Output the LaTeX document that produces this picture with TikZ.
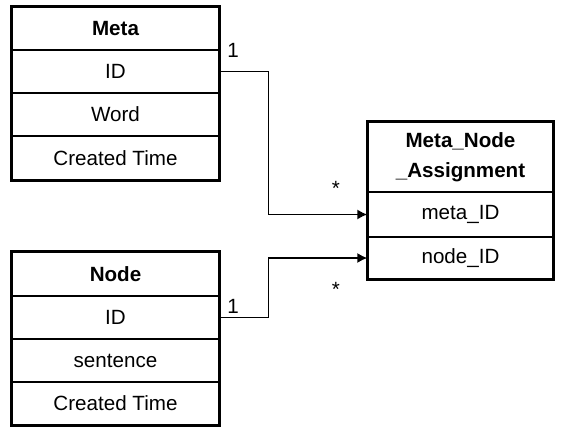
\documentclass[tikz,border=0pt]{standalone}
\usepackage{fontspec}
\setmainfont{Liberation Sans}
\usetikzlibrary{arrows.meta}
\begin{document}
\begin{tikzpicture}[
    x=0.5pt, y=-0.5pt,
    field/.style={
        rectangle,
        draw=black,
        line width=0.7pt,
        minimum width=103pt,
        minimum height=21.5pt,
        inner sep=0pt,
        font=\fontsize{10.3}{15}\selectfont
    },
    header/.style={
        field,
        font=\fontsize{10.3}{15}\selectfont\bfseries,
        align=center
    },
    frame/.style={
        draw=black,
        line width=1.6pt
    },
    conn/.style={
        draw=black,
        line width=0.7pt,
        -{Latex[length=5pt,width=5pt]}
    },
    mult/.style={
        font=\fontsize{10.3}{12}\selectfont,
        inner sep=0pt
    }
]
\useasboundingbox (0,0) rectangle (566,427);

% Meta
\node[header] (meta) at (115.5,28.5) {Meta};
\node[field] (metaid) at (115.5,71.5) {ID};
\node[field] (metaword) at (115.5,114.5) {Word};
\node[field, minimum height=22pt] (metatime) at (115.5,158) {Created Time};
\draw[frame] (meta.north west) rectangle (metatime.south east);

% Node
\node[header] (node) at (115.5,274) {Node};
\node[field] (nodeid) at (115.5,317.5) {ID};
\node[field] (nodesent) at (115.5,360.5) {sentence};
\node[field] (nodetime) at (115.5,403.5) {Created Time};
\draw[frame] (node.north west) rectangle (nodetime.south east);

% Meta_Node_Assignment
\node[header, minimum width=92.5pt, minimum height=35pt] (assign) at (460.5,157)
    {Meta\_Node\\\_Assignment};
\node[field, minimum width=92.5pt, minimum height=22.5pt] (assignmeta) at (460.5,214.5) {meta\_ID};
\node[field, minimum width=92.5pt, minimum height=21pt] (assignnode) at (460.5,258) {node\_ID};
\draw[frame] (assign.north west) rectangle (assignnode.south east);

% Verbindungen
\draw[conn] (metaid.east) -- ++(49,0) |- (assignmeta.west);
\draw[conn] (nodeid.east) -- ++(49,0) |- (assignnode.west);

% Kardinalitaeten
\node[mult] (multmeta) at (233,50) {1};
\node[mult] (multmetastar) at (336,188) {*};
\node[mult] (multnode) at (233,306) {1};
\node[mult] (multnodestar) at (336,289) {*};

\end{tikzpicture}
\end{document}
